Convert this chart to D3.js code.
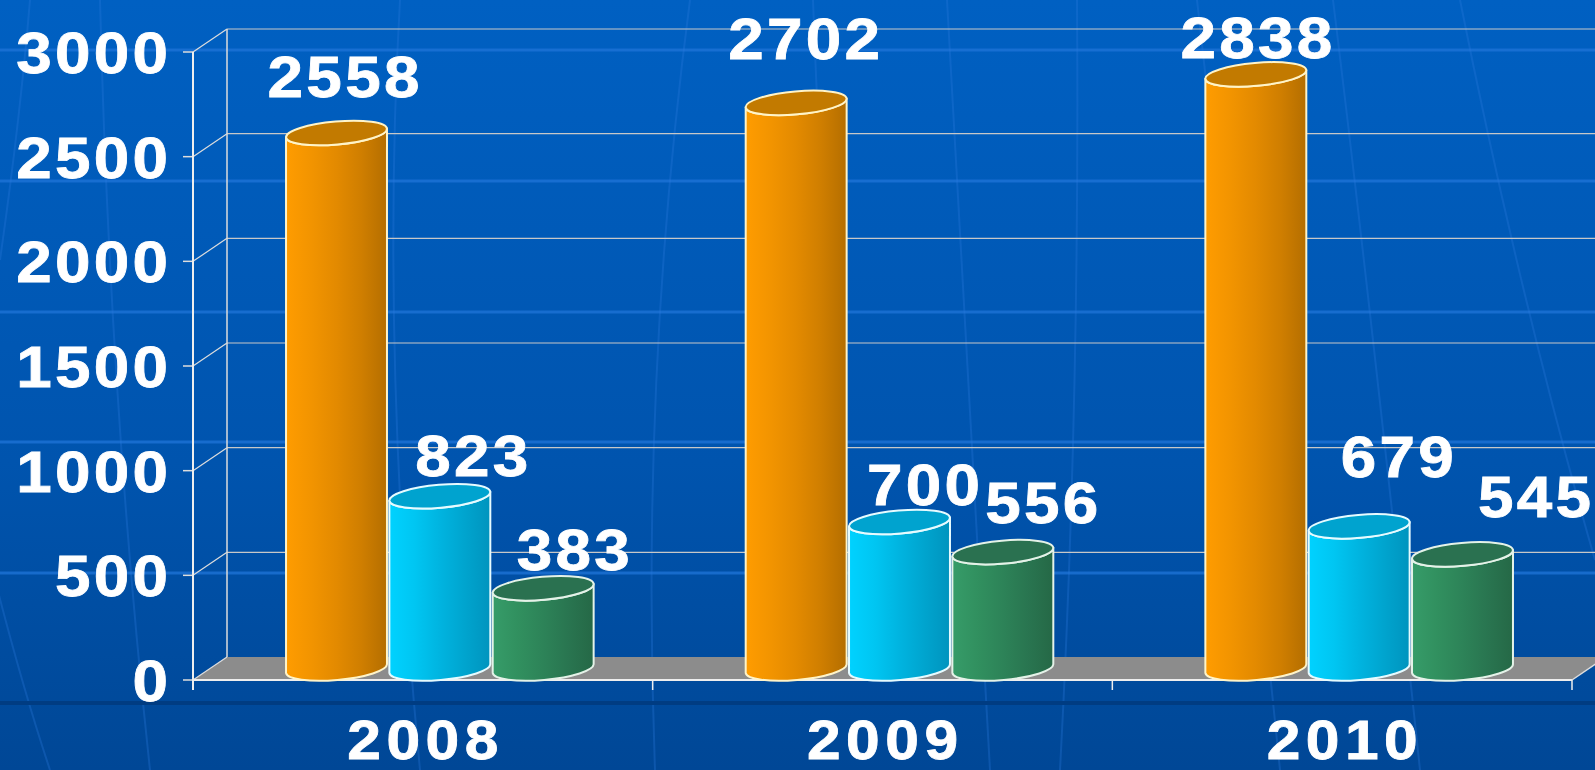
<!DOCTYPE html>
<html><head><meta charset="utf-8">
<script src="https://cdn.jsdelivr.net/npm/d3@7/dist/d3.min.js"></script>
<style>html,body{margin:0;padding:0;overflow:hidden;background:#0055B0}</style>
</head><body>
<svg id="chart" width="1595" height="770"></svg>
<script>
// ---- data ----
const years = ["2008", "2009", "2010"];
const seriesNames = ["s1", "s2", "s3"];
const s1Values = [2558, 2702, 2838];
const s2Values = [823, 700, 679];
const s3Values = [383, 556, 545];
const yTicks = [0, 500, 1000, 1500, 2000, 2500, 3000];

// ---- layout ----
const W = 1595, H = 770;
const front = {x0: 193, x1: 1572, y0: 680, y1: 52};
const depth = {dx: 34, dy: -23};
const fontFam = "'Liberation Sans', Arial, sans-serif";
// label nudges (relative to bar centre / front value position)
const labelNudge = [
  [[7, -47.6], [32, -31.7], [30, -29.8]],
  [[8, -55.4], [24, -28.5], [39, -40.6]],
  [[0.6, -27.9], [38, -60.9], [72, -48.9]]
];
const palette = [
  {stops: ["#FF9C00", "#F29400", "#E38A00", "#CF7E00", "#B46E00"], top: "#C27A00", stroke: "#FFF4C8"},
  {stops: ["#00D2FF", "#00C6F2", "#00B4E0", "#00A4CE", "#0094BE"], top: "#00A3CF", stroke: "#E6FBFF"},
  {stops: ["#369C69", "#31905F", "#2D8358", "#297550", "#256846"], top: "#2A7150", stroke: "#E4F2E8"}
];

const data = years.map((yr, i) => ({year: yr, vals: [s1Values[i], s2Values[i], s3Values[i]]}));

const svg = d3.select("#chart");
const defs = svg.append("defs");

// background
const bg = defs.append("linearGradient").attr("id", "bg").attr("x1", 0).attr("x2", 0).attr("y1", 0).attr("y2", 1);
bg.append("stop").attr("offset", "0%").attr("stop-color", "#0060C2");
bg.append("stop").attr("offset", "60%").attr("stop-color", "#0054AE");
bg.append("stop").attr("offset", "100%").attr("stop-color", "#004796");
svg.append("rect").attr("width", W).attr("height", H).attr("fill", "url(#bg)");

// decorative background lines
const deco = svg.append("g").attr("fill", "none");
[50, 181, 312, 442, 573].forEach(y => {
  deco.append("line").attr("x1", 0).attr("x2", W).attr("y1", y).attr("y2", y)
    .attr("stroke", "#1F74D8").attr("stroke-width", 3).attr("opacity", 0.75);
});
const curves = [
  "M100,0 Q110,400 150,770", "M-10,560 Q20,680 50,770", "M30,0 Q20,120 0,260",
  "M690,0 Q640,380 655,770", "M813,0 Q820,200 840,450", "M947,0 Q960,250 990,770",
  "M1077,0 Q1080,400 1060,770", "M1197,0 Q1240,380 1280,770", "M1333,0 Q1370,300 1420,770",
  "M1460,0 Q1520,300 1595,560", "M400,0 Q380,350 420,770"
];
curves.forEach(d => deco.append("path").attr("d", d).attr("stroke", "#2A7BDD").attr("stroke-width", 2).attr("opacity", 0.3));
svg.append("rect").attr("x", 0).attr("y", 701).attr("width", W).attr("height", 4).attr("fill", "#003C82");

// scales
const y = d3.scaleLinear().domain([0, 3000]).range([front.y0, front.y1]);
const x = d3.scaleBand().domain(years).range([front.x0, front.x1]).paddingInner(0).paddingOuter(0);
const groupW = 310;
const xi = d3.scaleBand().domain(seriesNames).range([0, groupW]).padding(0);

// floor
const plot = svg.append("g");
plot.append("path")
  .attr("d", `M${front.x0},${y(0)} L${front.x0 + depth.dx},${y(0) + depth.dy} L${front.x1 + depth.dx},${y(0) + depth.dy} L${front.x1},${y(0)} Z`)
  .attr("fill", "#8C8C8C");

// back wall grid lines and side wall lines
yTicks.forEach(t => {
  const yf = y(t), yb = y(t) + depth.dy;
  if (t > 0) plot.append("line").attr("x1", front.x0 + depth.dx).attr("x2", front.x1 + depth.dx + 10)
    .attr("y1", yb).attr("y2", yb).attr("stroke", "#C8C8C8").attr("stroke-width", 1.2);
  plot.append("line").attr("x1", front.x0).attr("y1", yf).attr("x2", front.x0 + depth.dx).attr("y2", yb)
    .attr("stroke", "#DDDDDD").attr("stroke-width", 1.2);
  plot.append("line").attr("x1", front.x0 - 10).attr("x2", front.x0).attr("y1", yf).attr("y2", yf)
    .attr("stroke", "#DDDDDD").attr("stroke-width", 1.5);
});
plot.append("line").attr("x1", front.x0 + depth.dx).attr("x2", front.x0 + depth.dx)
  .attr("y1", y(3000) + depth.dy).attr("y2", y(0) + depth.dy).attr("stroke", "#DDDDDD").attr("stroke-width", 1.5);
plot.append("line").attr("x1", front.x0).attr("x2", front.x0)
  .attr("y1", y(3000)).attr("y2", y(0) + 10).attr("stroke", "#EEEEEE").attr("stroke-width", 2);
plot.append("line").attr("x1", front.x0).attr("x2", front.x1).attr("y1", y(0)).attr("y2", y(0))
  .attr("stroke", "#EEEEEE").attr("stroke-width", 2);
plot.append("line").attr("x1", front.x1).attr("x2", front.x1 + depth.dx).attr("y1", y(0)).attr("y2", y(0) + depth.dy)
  .attr("stroke", "#DDDDDD").attr("stroke-width", 1.5);
// category ticks
years.concat(["end"]).forEach((yr, i) => {
  const xx = i < years.length ? x(yr) : front.x1;
  plot.append("line").attr("x1", xx).attr("x2", xx).attr("y1", y(0)).attr("y2", y(0) + 10)
    .attr("stroke", "#EEEEEE").attr("stroke-width", 1.5);
});

// gradients for cylinders
palette.forEach((p, i) => {
  const g = defs.append("linearGradient").attr("id", "cyl" + i).attr("x1", 0).attr("x2", 1).attr("y1", 0).attr("y2", 0);
  p.stops.forEach((c, k) => g.append("stop").attr("offset", (k / (p.stops.length - 1) * 100) + "%").attr("stop-color", c));
});

// cylinders
const rot = -5, ry = 11.5;
const rad = rot * Math.PI / 180;
const bars = svg.append("g");
function barCx(d, si) {
  return x(d.year) + (x.bandwidth() - groupW) / 2 + xi(seriesNames[si]) + xi.bandwidth() / 2 + depth.dx / 2;
}
data.forEach((d, ci) => {
  d.vals.forEach((v, si) => {
    const cx = barCx(d, si);
    const rx = xi.bandwidth() / 2 - 1;
    const cyTop = y(v) + depth.dy / 2;
    const cyBot = y(0) + depth.dy / 2;
    const ex = rx * Math.cos(rad), ey = rx * Math.sin(rad);
    const p = palette[si];
    const side = `M${cx - ex},${cyTop - ey} L${cx - ex},${cyBot - ey} A${rx},${ry} ${rot} 0 0 ${cx + ex},${cyBot + ey} L${cx + ex},${cyTop + ey} A${rx},${ry} ${rot} 0 1 ${cx - ex},${cyTop - ey} Z`;
    bars.append("path").attr("d", side).attr("fill", `url(#cyl${si})`)
      .attr("stroke", p.stroke).attr("stroke-width", 2).attr("stroke-linejoin", "round");
    bars.append("ellipse").attr("cx", cx).attr("cy", cyTop).attr("rx", rx).attr("ry", ry)
      .attr("transform", `rotate(${rot},${cx},${cyTop})`)
      .attr("fill", p.top).attr("stroke", p.stroke).attr("stroke-width", 2);
  });
});

// text helper: bold, slightly widened glyphs
const SX = 1.1;
function addText(g, tx, ty, str, size, ls, anchor) {
  const shift = anchor === "middle" ? ls / 2 * SX : (anchor === "end" ? ls * SX : 0);
  g.append("text").attr("transform", `translate(${tx + shift},${ty}) scale(${SX},1)`)
    .attr("font-size", size).attr("letter-spacing", ls).attr("text-anchor", anchor)
    .attr("stroke", "#FFFFFF").attr("stroke-width", 0.8).text(str);
}

// value labels
const labels = svg.append("g").attr("fill", "#FFFFFF").attr("font-family", fontFam).attr("font-weight", "bold");
data.forEach((d, ci) => {
  d.vals.forEach((v, si) => {
    const n = labelNudge[ci][si];
    addText(labels, barCx(d, si) + n[0], y(v) + n[1], String(v), 58, 3, "middle");
  });
});

// y-axis labels
const yl = svg.append("g").attr("fill", "#FFFFFF").attr("font-family", fontFam).attr("font-weight", "bold");
yTicks.forEach(t => addText(yl, 168, y(t) + 21, String(t), 58, 3, "end"));

// category labels
const xl = svg.append("g").attr("fill", "#FFFFFF").attr("font-family", fontFam).attr("font-weight", "bold");
years.forEach(yr => addText(xl, x(yr) + x.bandwidth() / 2, 759, yr, 55, 5, "middle"));
</script>
</body></html>
